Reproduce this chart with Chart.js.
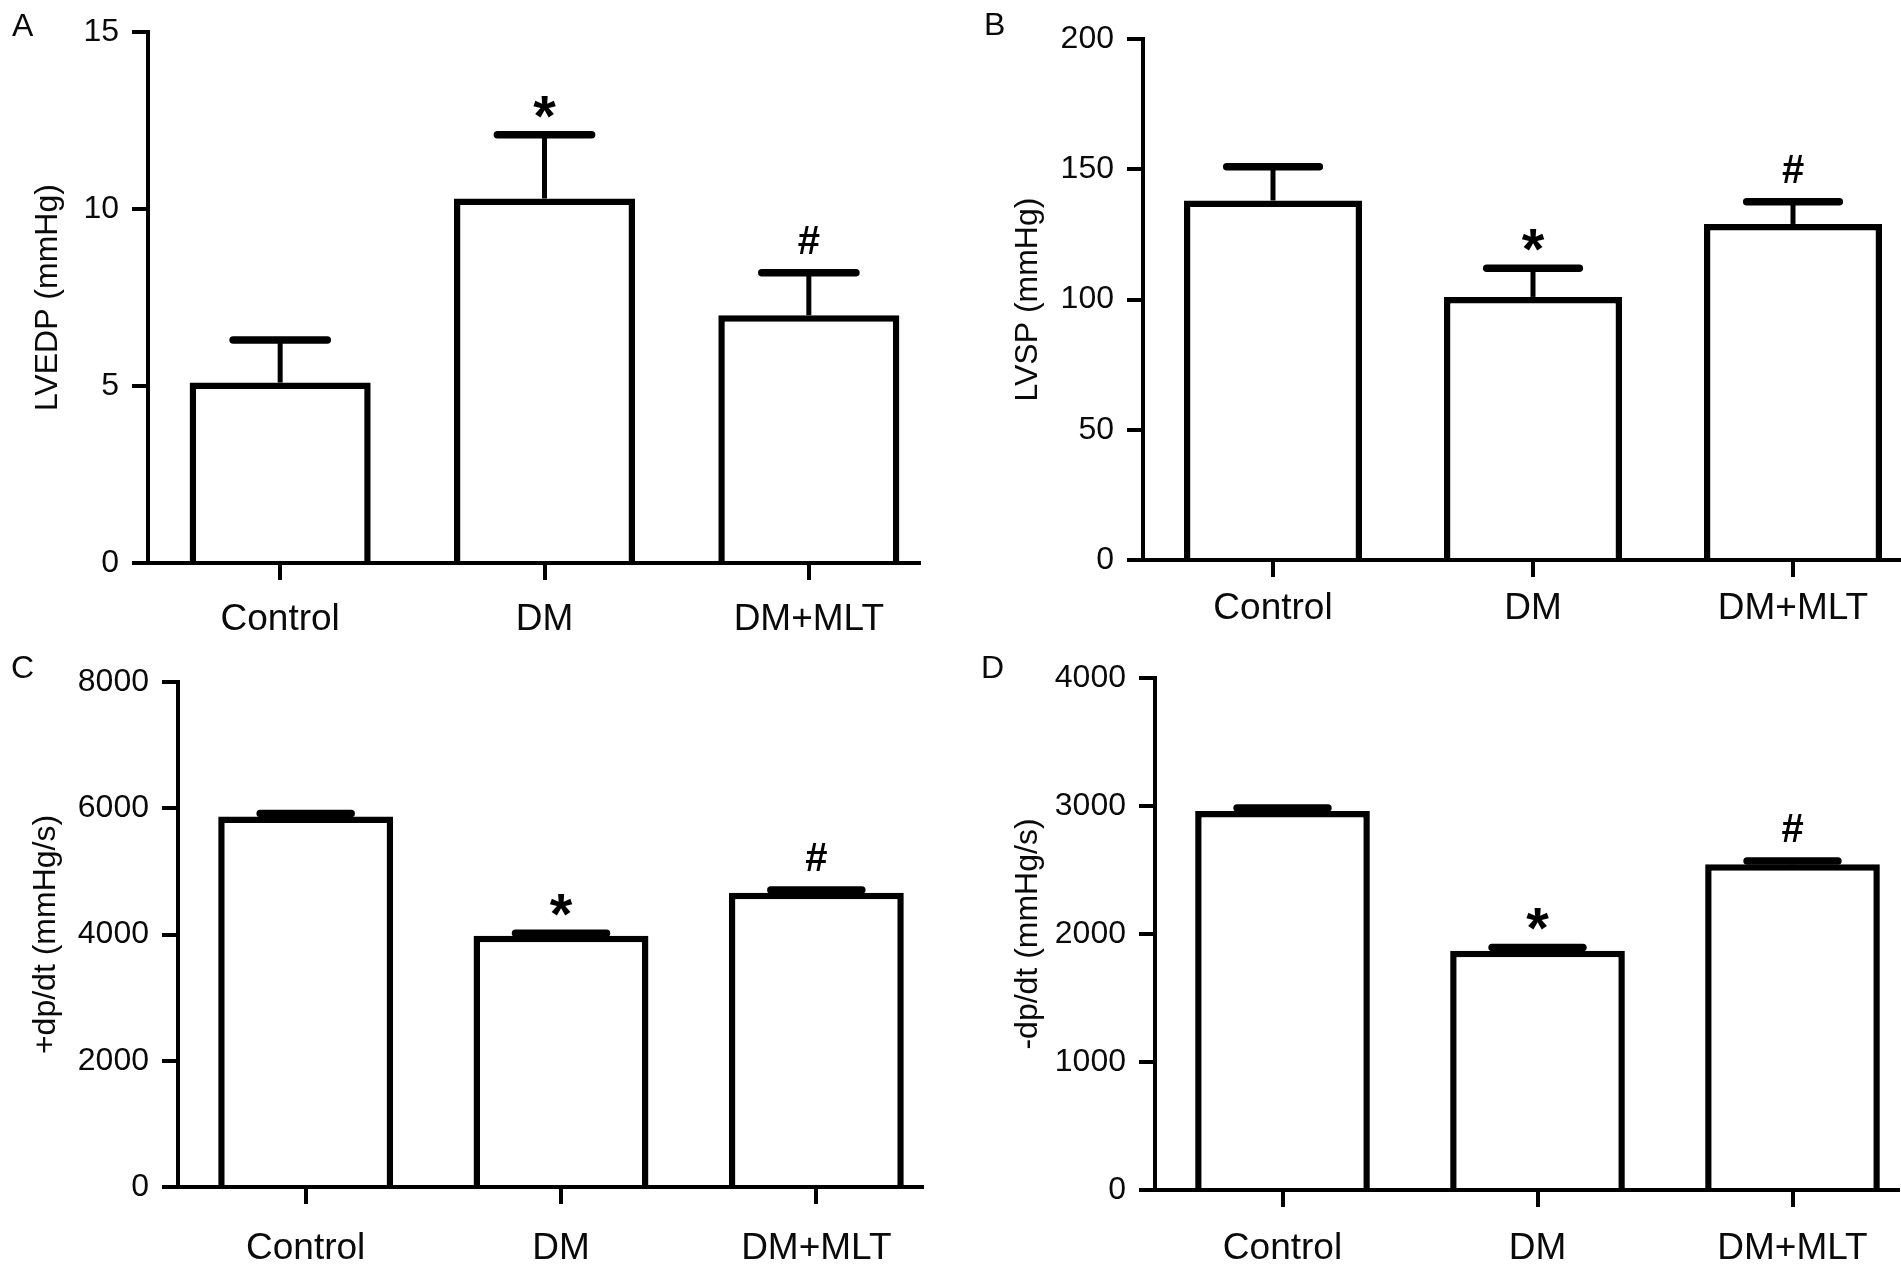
<!DOCTYPE html>
<html>
<head>
<meta charset="utf-8">
<title>LV haemodynamics</title>
<script src="https://cdn.jsdelivr.net/npm/chart.js@4.4.1/dist/chart.umd.min.js"></script>
<style>
  html, body { margin: 0; padding: 0; background: #fff; overflow: hidden; width: 1901px; height: 1282px; }
  canvas { position: absolute; }
</style>
</head>
<body>
<canvas id="panelA"></canvas>
<canvas id="panelB"></canvas>
<canvas id="panelC"></canvas>
<canvas id="panelD"></canvas>
<script>
// groups on the x axis and significance marks above them
const groups = ['Control', 'DM', 'DM+MLT'];
const marks = ['', '*', '#'];

// A - LVEDP (mmHg)
const lvedpMean = [5.1, 10.3, 7.0];
const lvedpSem = [1.2, 1.8, 1.2];
const lvedpTicks = [0, 5, 10, 15];

// B - LVSP (mmHg)
const lvspMean = [138, 101, 129];
const lvspSem = [13, 11, 8.5];
const lvspTicks = [0, 50, 100, 150, 200];

// C - +dp/dt (mmHg/s)
const plusDpMean = [5870, 3980, 4660];
const plusDpSem = [45, 40, 45];
const plusDpTicks = [0, 2000, 4000, 6000, 8000];

// D - -dp/dt (mmHg/s)
const minusDpMean = [2960, 1870, 2545];
const minusDpSem = [25, 25, 25];
const minusDpTicks = [0, 1000, 2000, 3000, 4000];

const FONT = "'Liberation Sans', Arial, Helvetica, sans-serif";
const INK = '#000';
const TEXT = '#0a0a0a';

// where each panel sits on the page, and its plot area inside the canvas
const panels = [
  { id: 'panelA', letter: 'A', title: 'LVEDP (mmHg)', mean: lvedpMean, sem: lvedpSem, ticks: lvedpTicks,
    left: 0, top: 0, width: 950, height: 641, labelPad: 18,
    area: { left: 148, top: 31, right: 941, bottom: 563 }, titleX: 48, letterX: 12, letterY: 36 },
  { id: 'panelB', letter: 'B', title: 'LVSP (mmHg)', mean: lvspMean, sem: lvspSem, ticks: lvspTicks,
    left: 950, top: 0, width: 990, height: 641, labelPad: 10,
    area: { left: 193, top: 39, right: 973, bottom: 560 }, titleX: 78, letterX: 34, letterY: 35 },
  { id: 'panelC', letter: 'C', title: '+dp/dt (mmHg/s)', mean: plusDpMean, sem: plusDpSem, ticks: plusDpTicks,
    left: 0, top: 641, width: 950, height: 641, labelPad: 23,
    area: { left: 178, top: 41, right: 944, bottom: 546 }, titleX: 46, letterX: 11, letterY: 37 },
  { id: 'panelD', letter: 'D', title: '-dp/dt (mmHg/s)', mean: minusDpMean, sem: minusDpSem, ticks: minusDpTicks,
    left: 950, top: 641, width: 990, height: 641, labelPad: 20,
    area: { left: 205, top: 37, right: 970, bottom: 549 }, titleX: 78, letterX: 31, letterY: 37 }
];

// Error bars (upper SEM only), significance marks, baseline and panel letter
function makeOverlay(p) {
  return {
    id: 'overlay' + p.letter,
    afterDatasetsDraw(chart) {
      const { ctx, chartArea, scales: { y } } = chart;
      const meta = chart.getDatasetMeta(0);
      ctx.save();
      ctx.strokeStyle = INK;
      ctx.fillStyle = INK;

      meta.data.forEach((bar, i) => {
        const capY = y.getPixelForValue(p.mean[i] + p.sem[i]);
        const half = bar.width * 0.26;

        ctx.lineWidth = 5;
        ctx.lineCap = 'butt';
        ctx.beginPath();
        ctx.moveTo(bar.x, bar.y);
        ctx.lineTo(bar.x, capY);
        ctx.stroke();

        ctx.lineWidth = 7.5;
        ctx.lineCap = 'round';
        ctx.beginPath();
        ctx.moveTo(bar.x - half, capY);
        ctx.lineTo(bar.x + half, capY);
        ctx.stroke();

        if (marks[i]) {
          const star = marks[i] === '*';
          ctx.font = star ? 'bold 58px ' + FONT : 'bold 40px ' + FONT;
          ctx.textAlign = 'center';
          ctx.textBaseline = 'alphabetic';
          const m = ctx.measureText(marks[i]);
          const centre = capY - (star ? 28 : 33);
          const base = centre + (m.actualBoundingBoxAscent - m.actualBoundingBoxDescent) / 2;
          ctx.fillText(marks[i], bar.x, base);
        }
      });

      // x axis line, stopping a little before the end of the plot area
      const y0 = y.getPixelForValue(0);
      ctx.lineWidth = 4;
      ctx.lineCap = 'butt';
      ctx.beginPath();
      ctx.moveTo(chartArea.left - 2, y0);
      ctx.lineTo(chartArea.right - 20, y0);
      ctx.stroke();

      // panel letter
      ctx.font = '32px ' + FONT;
      ctx.textAlign = 'left';
      ctx.textBaseline = 'alphabetic';
      ctx.fillStyle = TEXT;
      ctx.fillText(p.letter, p.letterX, p.letterY);
      ctx.restore();
    }
  };
}

function buildPanel(p) {
  const canvas = document.getElementById(p.id);
  canvas.width = p.width;
  canvas.height = p.height;
  canvas.style.left = p.left + 'px';
  canvas.style.top = p.top + 'px';
  canvas.style.width = p.width + 'px';
  canvas.style.height = p.height + 'px';

  return new Chart(canvas, {
    type: 'bar',
    data: {
      labels: groups,
      datasets: [{
        data: p.mean,
        backgroundColor: '#fff',
        borderColor: INK,
        borderWidth: 6.5,
        barPercentage: 0.685,
        categoryPercentage: 1
      }]
    },
    options: {
      responsive: false,
      animation: false,
      devicePixelRatio: 1,
      layout: { padding: { left: 0, top: p.area.top, right: p.width - p.area.right, bottom: 0 } },
      plugins: { legend: { display: false }, tooltip: { enabled: false } },
      scales: {
        x: {
          grid: { display: true, offset: false, drawOnChartArea: false, tickLength: 17, lineWidth: 4, color: INK },
          border: { display: false },
          ticks: { font: { family: FONT, size: 37 }, color: TEXT, padding: p.labelPad, maxRotation: 0 },
          afterFit: scale => { scale.height = p.height - p.area.bottom; }
        },
        y: {
          min: 0,
          max: p.ticks[p.ticks.length - 1],
          afterBuildTicks: scale => { scale.ticks = p.ticks.map(v => ({ value: v })); },
          grid: { display: true, drawOnChartArea: false, tickLength: 16, lineWidth: 4, color: INK },
          border: { display: true, width: 4, color: INK },
          ticks: { font: { family: FONT, size: 32 }, color: TEXT, padding: 13, callback: v => String(v) },
          title: {
            display: true,
            text: p.title,
            color: TEXT,
            font: { family: FONT, size: 32 },
            padding: { top: p.titleX - 19.2, bottom: 0 }
          },
          afterFit: scale => { scale.width = p.area.left; }
        }
      }
    },
    plugins: [makeOverlay(p)]
  });
}

panels.forEach(buildPanel);
</script>
</body>
</html>
